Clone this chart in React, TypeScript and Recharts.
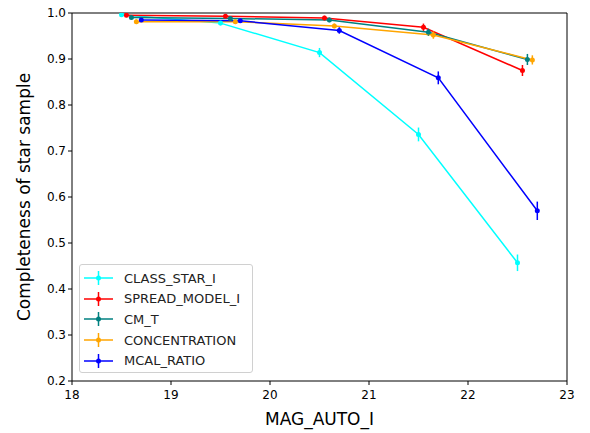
import { LineChart, Line, XAxis, YAxis, ErrorBar, ReferenceLine } from 'recharts';

const xTicks = [18, 19, 20, 21, 22, 23];
const yTicks = [0.2, 0.3, 0.4, 0.5, 0.6, 0.7, 0.8, 0.9, 1.0];

const classStarX = [18.5, 19.5, 20.5, 21.5, 22.5];
const classStarY = [0.996, 0.978, 0.914, 0.736, 0.457];
const classStarErr = [0.004, 0.005, 0.01, 0.015, 0.018];

const spreadModelX = [18.55, 19.55, 20.55, 21.55, 22.55];
const spreadModelY = [0.995, 0.993, 0.989, 0.969, 0.875];
const spreadModelErr = [0.004, 0.004, 0.005, 0.008, 0.012];

const cmTX = [18.6, 19.6, 20.6, 21.6, 22.6];
const cmTY = [0.99, 0.988, 0.985, 0.958, 0.899];
const cmTErr = [0.004, 0.004, 0.005, 0.008, 0.012];

const concentrationX = [18.65, 19.65, 20.65, 21.65, 22.65];
const concentrationY = [0.981, 0.981, 0.972, 0.952, 0.898];
const concentrationErr = [0.005, 0.005, 0.005, 0.008, 0.01];

const mcalRatioX = [18.7, 19.7, 20.7, 21.7, 22.7];
const mcalRatioY = [0.985, 0.983, 0.962, 0.859, 0.57];
const mcalRatioErr = [0.004, 0.004, 0.007, 0.014, 0.02];

const build = (xs: number[], ys: number[], errs: number[]) =>
  xs.map((x, i) => ({ x, y: ys[i], err: errs[i] }));

const series = [
  { name: 'CLASS_STAR_I', color: '#00ffff', data: build(classStarX, classStarY, classStarErr) },
  { name: 'SPREAD_MODEL_I', color: '#ff0000', data: build(spreadModelX, spreadModelY, spreadModelErr) },
  { name: 'CM_T', color: '#008080', data: build(cmTX, cmTY, cmTErr) },
  { name: 'CONCENTRATION', color: '#ffa500', data: build(concentrationX, concentrationY, concentrationErr) },
  { name: 'MCAL_RATIO', color: '#0000ff', data: build(mcalRatioX, mcalRatioY, mcalRatioErr) },
];

const font = 'DejaVu Sans, sans-serif';

// legend drawn as a plain box over the chart, like matplotlib's
const LegendBox = () => (
  <div
    style={{
      position: 'absolute',
      left: 79,
      top: 264,
      width: 174,
      height: 109,
      border: '1px solid #d0d0d0',
      borderRadius: 3,
      background: 'rgba(255,255,255,0.8)',
      padding: '3px 0 3px 3px',
      fontFamily: font,
      fontSize: 13,
      color: '#222',
      boxSizing: 'border-box',
    }}
  >
    {series.map((s) => (
      <div key={s.name} style={{ display: 'flex', alignItems: 'center', height: 20.6 }}>
        <svg width={41} height={16} style={{ flexShrink: 0 }}>
          <line x1={1} y1={8} x2={30} y2={8} stroke={s.color} strokeWidth={1.5} />
          <line x1={15.5} y1={1} x2={15.5} y2={15} stroke={s.color} strokeWidth={1.5} />
          <circle cx={15.5} cy={8} r={2.5} fill={s.color} />
        </svg>
        <span>{s.name}</span>
      </div>
    ))}
  </div>
);

const App = () => {
  return (
    <div style={{ position: 'absolute', left: 0, top: 0, width: 590, height: 433, background: '#fff' }}>
      <LineChart width={590} height={433} margin={{ top: 13, right: 23, bottom: 0, left: 0 }}>
        <XAxis
          dataKey="x"
          type="number"
          domain={[18, 23]}
          ticks={xTicks}
          allowDataOverflow
          stroke="#000"
          tickSize={4}
          height={52}
          tick={{ fill: '#000', fontSize: 12, fontFamily: font, dy: 3 }}
          label={{ value: 'MAG_AUTO_I', position: 'insideBottom', offset: 8, fill: '#000', fontSize: 17, fontFamily: font }}
        />
        <YAxis
          type="number"
          domain={[0.2, 1.0]}
          ticks={yTicks}
          allowDataOverflow
          stroke="#000"
          tickSize={4}
          width={72}
          tickFormatter={(v: number) => v.toFixed(1)}
          tick={{ fill: '#000', fontSize: 12, fontFamily: font }}
          label={{
            value: 'Completeness of star sample',
            angle: -90,
            position: 'insideLeft',
            offset: 24,
            style: { textAnchor: 'middle' },
            fill: '#000',
            fontSize: 17,
            fontFamily: font,
          }}
        />
        <ReferenceLine y={1.0} stroke="#000" strokeWidth={1} ifOverflow="extendDomain" />
        <ReferenceLine x={23} stroke="#000" strokeWidth={1} ifOverflow="extendDomain" />
        {series.map((s) => (
          <Line
            key={s.name}
            data={s.data}
            dataKey="y"
            name={s.name}
            stroke={s.color}
            strokeWidth={1.5}
            dot={{ r: 2.5, fill: s.color, stroke: s.color, strokeWidth: 0 }}
            isAnimationActive={false}
          >
            <ErrorBar dataKey="err" direction="y" width={0} stroke={s.color} strokeWidth={1.5} />
          </Line>
        ))}
      </LineChart>
      <LegendBox />
    </div>
  );
};

export default App;
